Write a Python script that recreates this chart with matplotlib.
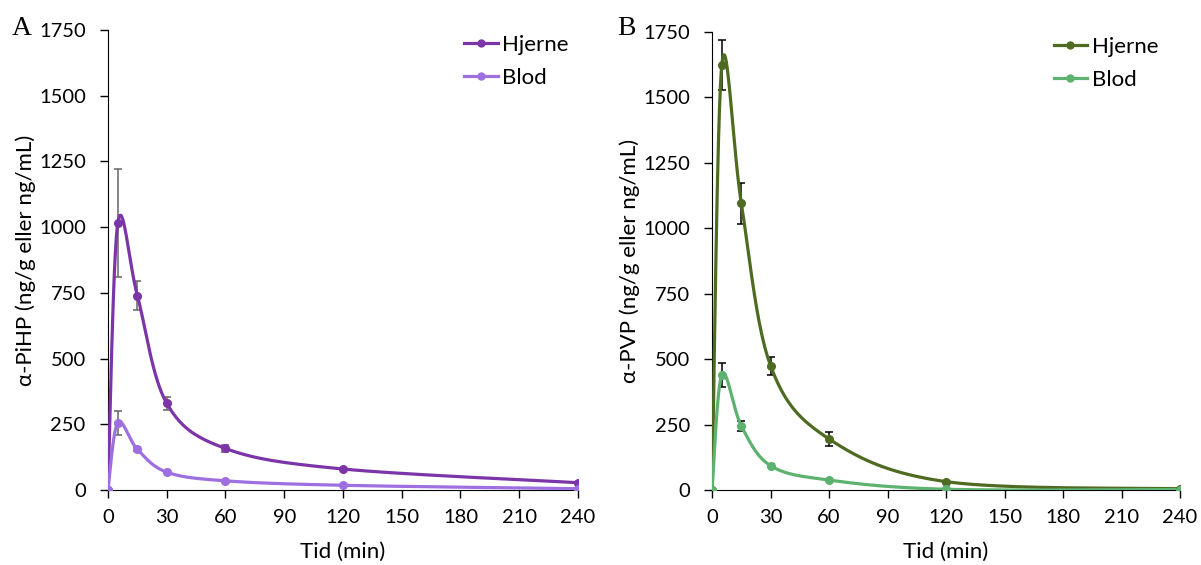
import numpy as np
import matplotlib
matplotlib.use("Agg")
import matplotlib.pyplot as plt

# ==========================
# Data
# ==========================
tid = [0, 5, 15, 30, 60, 120, 240]

a_hjerne = [0, 1015, 740, 330, 158, 80, 28]
a_hjerne_err = [0, 205, 55, 25, 15, 5, 3]
a_blod = [0, 255, 155, 68, 35, 18, 5]
a_blod_err = [0, 45, 8, 5, 3, 2, 1]

b_hjerne = [0, 1625, 1095, 475, 195, 32, 5]
b_hjerne_err = [0, 95, 80, 35, 25, 4, 2]
b_blod = [0, 440, 245, 93, 38, 3, 2]
b_blod_err = [0, 45, 20, 6, 4, 1, 1]

plt.rcParams['font.family'] = ['Lato', 'DejaVu Sans']


def smooth(x, y, n=40):
    # Excel-like smoothed line (Catmull-Rom Bezier)
    x = np.asarray(x, float)
    y = np.asarray(y, float)
    px = np.concatenate([[x[0]], x, [x[-1]]])
    py = np.concatenate([[y[0]], y, [y[-1]]])
    xs, ys = [], []
    t = np.linspace(0, 1, n)
    for i in range(1, len(px) - 2):
        p0 = np.array([px[i], py[i]])
        p3 = np.array([px[i + 1], py[i + 1]])
        p1 = p0 + (np.array([px[i + 1], py[i + 1]]) - np.array([px[i - 1], py[i - 1]])) / 6
        p2 = p3 - (np.array([px[i + 2], py[i + 2]]) - np.array([px[i], py[i]])) / 6
        b = ((1 - t) ** 3)[:, None] * p0 + (3 * (1 - t) ** 2 * t)[:, None] * p1 \
            + (3 * (1 - t) * t ** 2)[:, None] * p2 + (t ** 3)[:, None] * p3
        xs.extend(b[:, 0])
        ys.extend(b[:, 1])
    return xs, ys


def panel(ax, hj, hj_err, bl, bl_err, c_hj, c_bl, ecol, ylabel, leg_x):
    for vals, err, col, lab in [(hj, hj_err, c_hj, "Hjerne"), (bl, bl_err, c_bl, "Blod")]:
        sx, sy = smooth(tid, vals)
        ax.plot(sx, sy, color=col, lw=2.3, zorder=3)
        ax.errorbar(tid, vals, yerr=err, fmt="none", ecolor=ecol, elinewidth=1.1,
                    capsize=3, capthick=1.1, zorder=2)
        ax.plot(tid, vals, "o", color=col, ms=5.5, zorder=4)
        ax.plot([], [], "-o", color=col, lw=2.3, ms=5, label=lab)

    ax.set_xlim(0, 240)
    ax.set_ylim(0, 1750)
    ax.set_xticks(range(0, 241, 30))
    ax.set_yticks(range(0, 1751, 250))
    ax.spines[['top', 'right']].set_visible(False)
    ax.tick_params(labelsize=14.5, length=6, width=1)
    ax.tick_params(axis="y", pad=10)
    ax.tick_params(axis="x", pad=8)
    ax.set_xlabel("Tid (min)", fontsize=16, labelpad=11)
    ax.set_ylabel(ylabel, fontsize=16, labelpad=2)
    ax.legend(loc="upper left", bbox_to_anchor=(leg_x, 0.99), frameon=False,
              fontsize=16, handlelength=1.5, handletextpad=0.2, labelspacing=0.6,
              borderpad=0, borderaxespad=0)


fig = plt.figure(figsize=(12.01, 5.65), dpi=100)
ax1 = fig.add_axes([0.0899, 0.1327, 0.3913, 0.8142])
ax2 = fig.add_axes([0.5929, 0.1327, 0.3897, 0.8106])

panel(ax1, a_hjerne, a_hjerne_err, a_blod, a_blod_err, "#7B35A8", "#9D6FE0", "#666666",
      "α-PiHP (ng/g eller ng/mL)", 0.758)
panel(ax2, b_hjerne, b_hjerne_err, b_blod, b_blod_err, "#4F6B22", "#5CB26E", "#000000",
      "α-PVP (ng/g eller ng/mL)", 0.73)

fig.text(0.010, 0.950, "A", fontsize=20, family="Liberation Serif", va="center")
fig.text(0.514, 0.950, "B", fontsize=20, family="Liberation Serif", va="center")

fig.savefig("out.png", dpi=100)
